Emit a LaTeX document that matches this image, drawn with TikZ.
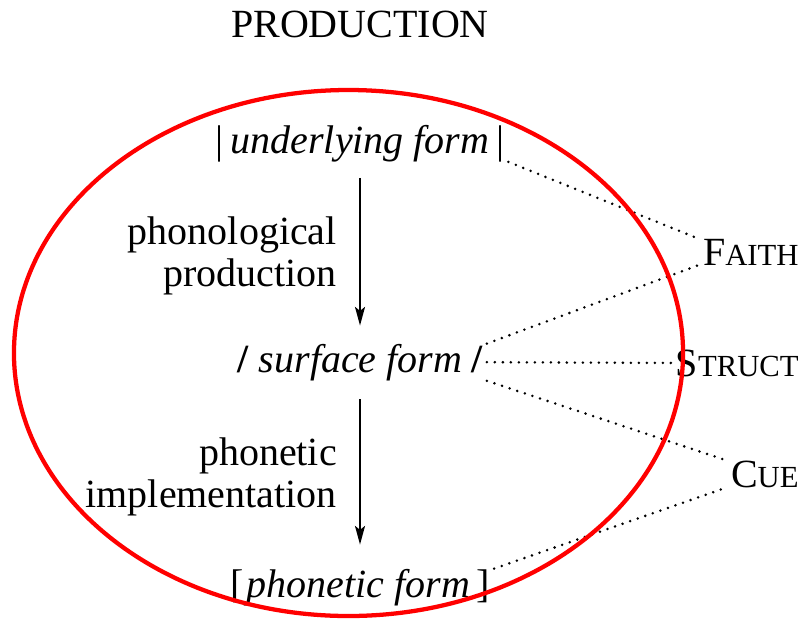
\documentclass[tikz,border=0pt]{standalone}
\usepackage{fontspec}
\setmainfont{Liberation Serif}
\usetikzlibrary{arrows.meta}
\newcommand{\fakesc}[2]{#1{\fontsize{23}{23}\selectfont #2}}

\begin{document}
\begin{tikzpicture}[x = .75pt, y = -.75pt, font = \fontsize{30}{31}\selectfont, inner sep = 0pt,
  dotline/.style = {line width = 2.1pt, dash pattern = on 0pt off 6pt, line cap = round},
  flow/.style = {line width = 1.5pt, -{Stealth[length = 14pt, width = 7.5pt, inset = 3pt]}},
  side/.style = {anchor = base east, inner xsep = 3.5pt}]
\useasboundingbox (0,0) rectangle (805,622);
\begin{scope}
\node (title) at (360,24.5) {PRODUCTION};
\node[anchor = base, inner xsep = 3pt] (uf) at (360,153) {|\,\textit{underlying form}\,|};
\node[anchor = base, inner xsep = 3pt] (sf) at (360,372) {\textbf{/}\hspace{.25em}\textit{surface form}\hspace{.22em}\textbf{/}};
\node[anchor = base, inner xsep = 3pt] (pf) at (360,597) {[\hspace{.08em}\textit{phonetic form}\,]};
\node[anchor = base east, align = right] (lblphon) at (337,286) {phonological\\production};
\node[anchor = base east, align = right] (lblimpl) at (337,507) {phonetic\\implementation};
\node[side] (faith) at (803.5,265) {\fakesc{F}{AITH}};
\node[side] (struct) at (803.5,376) {\fakesc{S}{TRUCT}};
\node[side] (cue) at (803.5,487) {\fakesc{C}{UE}};
\draw[flow, shorten < = 12pt, shorten > = 13.5pt] (uf.south) -- (sf.north);
\draw[flow, shorten < = 14pt, shorten > = 18pt] (sf.south) -- (pf.north);
\draw[dotline] (uf.south east) -- (faith.north west);
\draw[dotline] (sf.north east) -- (faith.south west);
\draw[dotline] (sf.east) -- (struct.west);
\draw[dotline] (sf.south east) -- (cue.north west);
\draw[dotline] (pf.north east) -- (cue.south west);
\draw[red, line width = 3.2pt] (348.5,353) ellipse [x radius = 250.9pt, y radius = 197.25pt];
\end{scope}
\end{tikzpicture}
\end{document}
